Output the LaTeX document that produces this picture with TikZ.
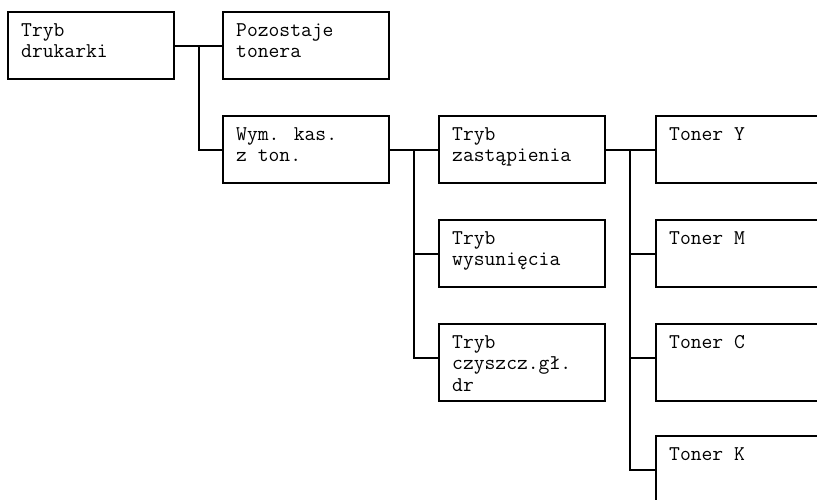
\documentclass[tikz,border=0pt]{standalone}
\usepackage{fontspec}

\begin{document}
\begin{tikzpicture}[x=1pt, y=-1pt,
    menuBox/.style={draw=borderColour, line width=2pt, rectangle, inner sep=0pt, outer sep=0pt,
        minimum width=166pt, minimum height=67pt, anchor=north west},
    tallBox/.style={menuBox, minimum height=77pt},
    menuText/.style={anchor=north west, align=left, inner sep=0pt, xshift=13pt, yshift=-11pt,
        font=\ttfamily\fontsize{21}{21.5}\selectfont},
    link/.style={draw=borderColour, line width=2pt}]
    \def\armLength{25}
    \def\tapOffset{34}

    \definecolor{borderColour}{HTML}{000000}

    % Page frame
    \useasboundingbox (0,0) rectangle (817,500);
    \clip (0,0) rectangle (817,500);

    % Level 1 and 2
    \node[menuBox] (drukarki) at (8,12) {};
    \node[menuBox] (pozostaje) at (223,12) {};
    \node[menuBox] (wymKas) at (223,116) {};

    % Level 3
    \node[menuBox] (zastapienia) at (439,116) {};
    \node[menuBox] (wysuniecia) at (439,220) {};
    \node[tallBox] (czyszczenie) at (439,324) {};

    % Level 4
    \node[menuBox] (tonerY) at (656,116) {};
    \node[menuBox] (tonerM) at (656,220) {};
    \node[tallBox] (tonerC) at (656,324) {};
    \node[menuBox] (tonerK) at (656,436) {};

    % Labels
    \node[menuText] (drukarkiText) at (drukarki.north west) {Tryb\\drukarki};
    \node[menuText] (pozostajeText) at (pozostaje.north west) {Pozostaje\\tonera};
    \node[menuText] (wymKasText) at (wymKas.north west) {Wym. kas.\\z ton.};
    \node[menuText] (zastapieniaText) at (zastapienia.north west) {Tryb\\zastąpienia};
    \node[menuText] (wysunieciaText) at (wysuniecia.north west) {Tryb\\wysunięcia};
    \node[menuText] (czyszczenieText) at (czyszczenie.north west) {Tryb\\czyszcz.gł.\\dr};
    \node[menuText] (tonerYText) at (tonerY.north west) {Toner Y};
    \node[menuText] (tonerMText) at (tonerM.north west) {Toner M};
    \node[menuText] (tonerCText) at (tonerC.north west) {Toner C};
    \node[menuText] (tonerKText) at (tonerK.north west) {Toner K};

    % Connectors
    \foreach \from/\to in {drukarki/pozostaje, drukarki/wymKas,
                           wymKas/zastapienia, wymKas/wysuniecia, wymKas/czyszczenie,
                           zastapienia/tonerY, zastapienia/tonerM, zastapienia/tonerC, zastapienia/tonerK}
        \draw[link] ([yshift=-\tapOffset pt]\from.north east) -- ++(\armLength,0)
            |- ([yshift=-\tapOffset pt]\to.north west);

\end{tikzpicture}
\end{document}
